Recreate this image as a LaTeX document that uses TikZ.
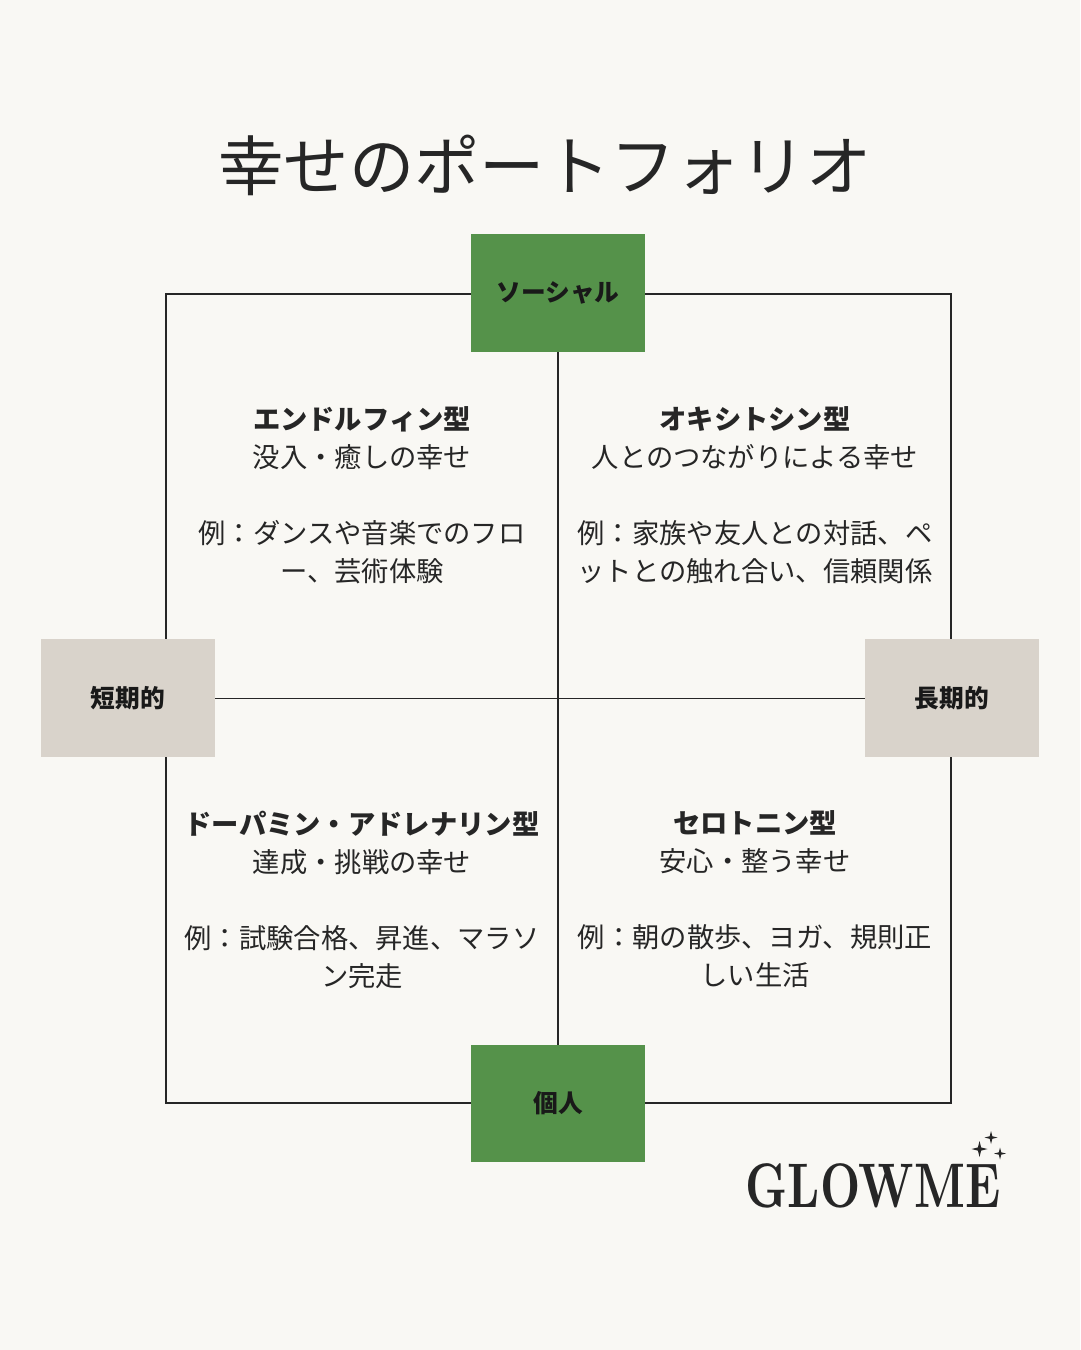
\documentclass[tikz,border=0pt]{standalone}
\usepackage{fontspec}
\setmainfont{Noto Sans CJK JP}
\newfontfamily\logofont[FakeStretch=0.74]{lmroman10-bold.otf}
\usetikzlibrary{positioning}
\definecolor{npaper}{HTML}{F9F8F4}
\definecolor{ngreen}{HTML}{55924A}
\definecolor{nsand}{HTML}{D9D3CB}
\definecolor{nink}{HTML}{262626}
\tikzset{
  axisgreen/.style={fill=ngreen, minimum width=174pt, minimum height=117.5pt, inner sep=0pt,
                    font=\fontsize{24.7}{30}\selectfont\bfseries, text=black!90},
  axissand/.style={axisgreen, fill=nsand},
  quad/.style={align=center, inner sep=0pt, text=nink, anchor=north,
               font=\fontsize{27.3}{38}\selectfont},
  line/.style={draw=nink, line width=1.3pt},
  spark/.pic={\fill[nink] (0,-1) -- (0.2,-0.2) -- (1,0) -- (0.2,0.2) -- (0,1)
                -- (-0.2,0.2) -- (-1,0) -- (-0.2,-0.2) -- cycle;},
}
\begin{document}
\begin{tikzpicture}[x=1pt, y=-1pt]
  \useasboundingbox[fill=npaper] (0,0) rectangle (1080,1350);

  \node[font=\fontsize{65.3}{70}\selectfont, text=nink] (title) at (545,165.5) {幸せのポートフォリオ};

  \node[axisgreen] (social) at (558,293.2) {ソーシャル};
  \node[axisgreen] (solo) at (558,1103.5) {個人};
  \node[axissand] (short) at (128,698.2) {短期的};
  \node[axissand] (long) at (952,698.2) {長期的};

  \coordinate (tl) at (166,294);
  \coordinate (tr) at (951,294);
  \coordinate (bl) at (166,1103);
  \coordinate (br) at (951,1103);

  \draw[line] (social.west |- tl) -- (tl) -- (tl |- short.north);
  \draw[line] (social.east |- tr) -- (tr) -- (tr |- long.north);
  \draw[line] (solo.west |- bl) -- (bl) -- (bl |- short.south);
  \draw[line] (solo.east |- br) -- (br) -- (br |- long.south);
  \draw[line] (social) -- (solo);
  \draw[line] (short) -- (long);

  \node[quad] (endo) at (362,406.5) {\textbf{エンドルフィン型}\\没入・癒しの幸せ\\[38pt]例：ダンスや音楽でのフロ\\ー、芸術体験};
  \node[quad] (oxy) at (755,406.5) {\textbf{オキシトシン型}\\人とのつながりによる幸せ\\[38pt]例：家族や友人との対話、ペ\\ットとの触れ合い、信頼関係};
  \node[quad] (dopa) at (362,810.5) {\textbf{ドーパミン・アドレナリン型}\\達成・挑戦の幸せ\\[38pt]例：試験合格、昇進、マラソ\\ン完走};
  \node[quad] (sero) at (755,810.5) {\textbf{セロトニン型}\\安心・整う幸せ\\[38pt]例：朝の散歩、ヨガ、規則正\\しい生活};

  \node[font=\logofont\fontsize{63}{63}\selectfont, text=nink] (logo) at (873,1186) {GLOWME};
  \pic[scale=8] at (979.5,1149) {spark};
  \pic[scale=6.5] at (991,1137.5) {spark};
  \pic[scale=6] at (1000,1153.5) {spark};
\end{tikzpicture}
\end{document}
